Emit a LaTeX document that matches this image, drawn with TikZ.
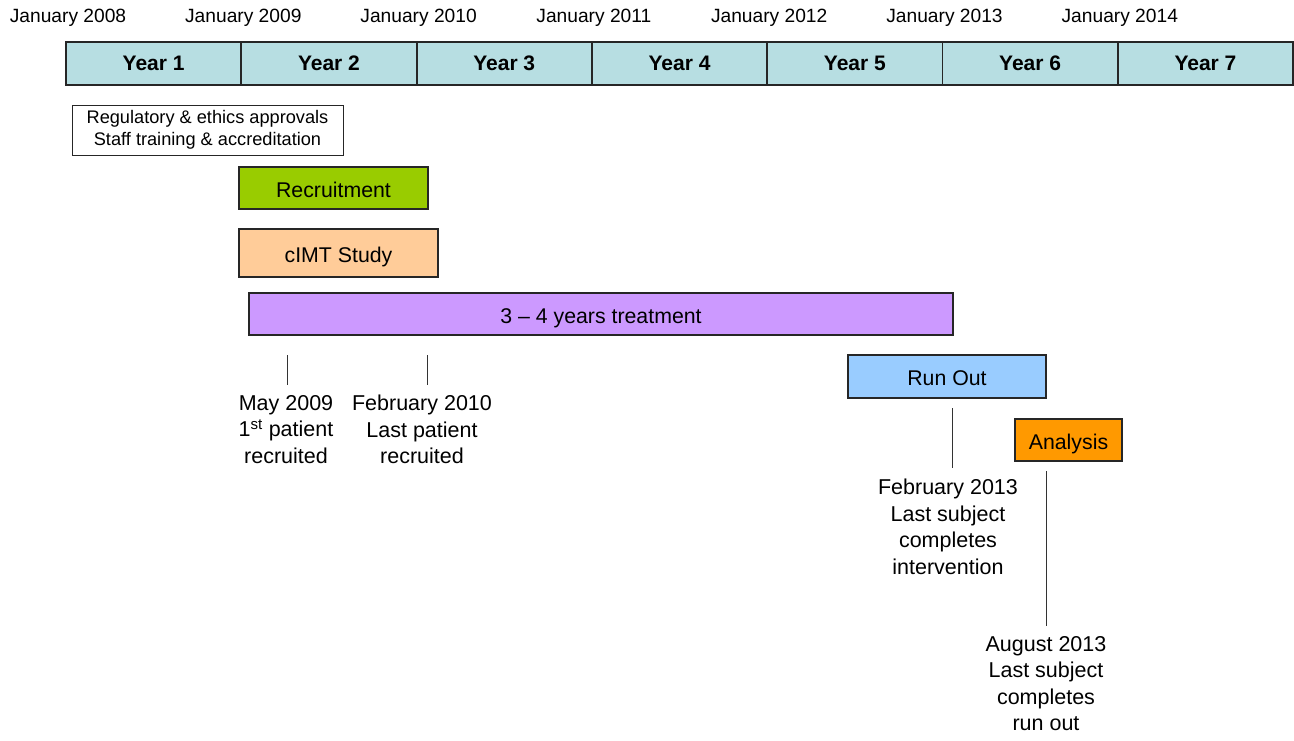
\documentclass[tikz,border=0pt]{standalone}
\usepackage{fontspec}
\setmainfont{Liberation Sans}
\definecolor{yearfill}{RGB}{183,222,226}
\definecolor{recfill}{RGB}{153,204,0}
\definecolor{cimtfill}{RGB}{255,204,153}
\definecolor{treatfill}{RGB}{204,153,255}
\definecolor{runfill}{RGB}{153,204,255}
\definecolor{anafill}{RGB}{255,153,0}
\begin{document}
\begin{tikzpicture}[x=1pt,y=-1pt,
  yearbox/.style={draw=black!85, line width=1.8pt, fill=yearfill, minimum width=175.3, minimum height=43, inner sep=0pt, font=\fontsize{21}{25}\selectfont\bfseries},
  datelbl/.style={font=\fontsize{19.2}{22}\selectfont, inner sep=0pt},
  phase/.style={draw=black!85, line width=1.2pt, inner sep=0pt, text height=18.5pt, text depth=0pt, font=\fontsize{21.3}{25}\selectfont},
  note/.style={align=center, inner sep=0pt, font=\fontsize{21.5}{26.5}\selectfont, anchor=north},
  tick/.style={draw=black!80, line width=1pt}
]
\useasboundingbox (0,0) rectangle (1294,740);
% year bar
\foreach \i [evaluate=\i as \cx using {66+175.3*(\i-0.5)}] in {1,...,7}{
  \node[yearbox] (y\i) at (\cx,63.5) {Year \i};
}
% dates
\foreach \i/\yr in {0/2008,1/2009,2/2010,3/2011,4/2012,5/2013,6/2014}{
  \node[datelbl] (d\i) at ({68+175.3*\i},17.5) {January \yr};
}
% approvals
\node[draw=black!85, line width=1pt, fill=white, minimum width=271, minimum height=50, inner sep=0pt, align=center, font=\fontsize{18.2}{22}\selectfont] (reg) at (207.5,130) {Regulatory \& ethics approvals\\Staff training \& accreditation};
% phases
\node[phase, fill=recfill, minimum width=189, minimum height=42] (rec) at (333.5,188) {Recruitment};
\node[phase, fill=cimtfill, minimum width=199, minimum height=48] (cimt) at (338.5,253) {cIMT Study};
\node[phase, fill=treatfill, minimum width=704, minimum height=42] (treat) at (601,314) {3 -- 4 years treatment};
\node[phase, fill=runfill, minimum width=198, minimum height=43] (run) at (947,376.5) {Run Out};
\node[phase, fill=anafill, minimum width=107, minimum height=42] (ana) at (1068.5,440) {Analysis};
% ticks and labels
\coordinate (t1a) at (287,355); \coordinate (t1b) at (287,385);
\coordinate (t2a) at (427,355); \coordinate (t2b) at (427,385);
\coordinate (t3a) at (952,408); \coordinate (t3b) at (952,468);
\coordinate (t4a) at (1046,471); \coordinate (t4b) at (1046,626);
\draw[tick] (t1a) -- (t1b);
\draw[tick] (t2a) -- (t2b);
\draw[tick] (t3a) -- (t3b);
\draw[tick] (t4a) -- (t4b);
\node[note] (n1) at (286,395) {May 2009\\1\textsuperscript{st} patient\\recruited};
\node[note] (n2) at (422,395) {February 2010\\Last patient\\recruited};
\node[note] (n3) at (948,479) {February 2013\\Last subject\\completes\\intervention};
\node[note] (n4) at (1046,636) {August 2013\\Last subject\\completes\\run out};
\end{tikzpicture}
\end{document}
